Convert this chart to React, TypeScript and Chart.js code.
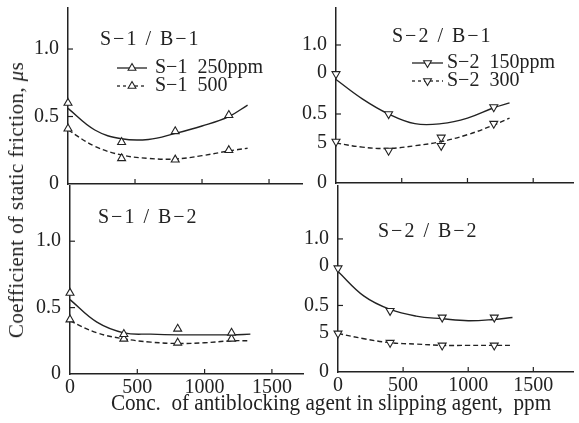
import React, { useEffect, useRef } from 'react';
import { Chart, registerables } from 'chart.js';

Chart.register(...registerables);

// ---------------- data ----------------
const curveX = [0, 200, 400, 600, 800, 1000, 1200, 1340];
const markX = [0, 400, 800, 1200];

// S-1 / B-1
const s1b1Curve250 = [0.56, 0.40, 0.335, 0.33, 0.375, 0.43, 0.50, 0.585];
const s1b1Mark250 = [0.60, 0.31, 0.39, 0.51];
const s1b1Curve500 = [0.40, 0.28, 0.215, 0.19, 0.185, 0.21, 0.245, 0.265];
const s1b1Mark500 = [0.41, 0.19, 0.18, 0.25];

// S-2 / B-1
const s2b1CurveX = [0, 200, 400, 600, 800, 1000, 1200, 1320];
const s2b1Curve150 = [0.75, 0.61, 0.50, 0.43, 0.43, 0.47, 0.545, 0.58];
const s2b1Mark150X = [0, 400, 1200];
const s2b1Mark150 = [0.79, 0.50, 0.55];
const s2b1Curve300 = [0.29, 0.26, 0.25, 0.27, 0.30, 0.35, 0.42, 0.47];
const s2b1Mark300X = [0, 400, 800, 800, 1200];
const s2b1Mark300 = [0.30, 0.235, 0.33, 0.27, 0.43];

// S-1 / B-2
const s1b2Curve250 = [0.56, 0.39, 0.31, 0.30, 0.295, 0.295, 0.295, 0.30];
const s1b2Mark250 = [0.61, 0.30, 0.34, 0.31];
const s1b2Curve500 = [0.40, 0.31, 0.265, 0.24, 0.23, 0.235, 0.25, 0.25];
const s1b2Mark500 = [0.41, 0.265, 0.235, 0.265];

// S-2 / B-2
const s2b2Curve150 = [0.755, 0.57, 0.47, 0.42, 0.40, 0.385, 0.395, 0.41];
const s2b2Mark150 = [0.78, 0.46, 0.41, 0.41];
const s2b2Curve300 = [0.29, 0.25, 0.22, 0.21, 0.20, 0.20, 0.20, 0.20];
const s2b2Mark300 = [0.29, 0.22, 0.20, 0.20];

// ticks
const xTickValues = [0, 500, 1000, 1500];
const xTickLabels = ['0', '500', '1000', '1500'];
const leftYTickValues = [0, 0.5, 1.0];
const leftYTickLabels = ['0', '0.5', '1.0'];
const rightYTickValues = [0, 0.295, 0.5, 0.8, 1.0];
const rightYTickLabels = ['0', '5', '0.5', '0', '1.0'];
const xMarkTicks = [500, 1000, 1500];
const yMarkTicks = [0.5, 1.0];

// texts
const panelTitles = ['S−1 / B−1', 'S−2 / B−1', 'S−1 / B−2', 'S−2 / B−2'];
const legendS1 = ['S−1  250ppm', 'S−1  500'];
const legendS2 = ['S−2  150ppm', 'S−2  300'];
const yTitle = 'Coefficient of static friction, ';
const xTitle = 'Conc.  of antiblocking agent in slipping agent,  ppm';

const INK = '#222';
const FONT = '"Liberation Serif", "Times New Roman", serif';

// ---------------- plugins ----------------
const innerTicks = {
  id: 'innerTicks',
  afterDatasetsDraw(chart: any, _args: any, opts: any) {
    const { ctx, chartArea, scales } = chart;
    ctx.save();
    ctx.strokeStyle = INK;
    ctx.lineWidth = 1.2;
    for (const v of opts.x || []) {
      const px = scales.x.getPixelForValue(v);
      ctx.beginPath();
      ctx.moveTo(px, chartArea.bottom);
      ctx.lineTo(px, chartArea.bottom - 5);
      ctx.stroke();
    }
    for (const v of opts.y || []) {
      const py = scales.y.getPixelForValue(v);
      ctx.beginPath();
      ctx.moveTo(chartArea.left, py);
      ctx.lineTo(chartArea.left + 5, py);
      ctx.stroke();
    }
    ctx.restore();
  },
};

function drawTri(ctx: CanvasRenderingContext2D, x: number, y: number, r: number, down: boolean) {
  const s = down ? -1 : 1;
  ctx.beginPath();
  ctx.moveTo(x, y - s * r);
  ctx.lineTo(x + r * 0.866, y + s * r * 0.5);
  ctx.lineTo(x - r * 0.866, y + s * r * 0.5);
  ctx.closePath();
  ctx.fillStyle = '#fff';
  ctx.fill();
  ctx.stroke();
}

const sampleLegend = {
  id: 'sampleLegend',
  afterDraw(chart: any, _args: any, opts: any) {
    if (!opts || !opts.items) return;
    const { ctx } = chart;
    ctx.save();
    ctx.strokeStyle = INK;
    ctx.fillStyle = INK;
    for (const it of opts.items) {
      ctx.lineWidth = 1.3;
      ctx.setLineDash(it.dash);
      ctx.beginPath();
      ctx.moveTo(it.x1, it.y);
      ctx.lineTo(it.x2, it.y);
      ctx.stroke();
      ctx.setLineDash([]);
      ctx.lineWidth = 1.1;
      drawTri(ctx, (it.x1 + it.x2) / 2, it.y, 4.5, opts.down);
      ctx.fillStyle = INK;
      ctx.font = `20px ${FONT}`;
      ctx.textBaseline = 'middle';
      ctx.textAlign = 'left';
      ctx.fillText(it.label, it.textX, it.y);
    }
    ctx.restore();
  },
};

function zeroPad(s: any) {
  s.paddingTop = 0;
  s.paddingBottom = 0;
  s.paddingLeft = 0;
  s.paddingRight = 0;
}

// ---------------- panel ----------------
type Series = { cx: number[]; cy: number[]; mx: number[]; my: number[]; dash: number[] };

type PanelCfg = {
  left: number; top: number; width: number; height: number;
  yW: number; xH: number; padTop: number; padRight: number;
  xMax: number; yMax: number; showX: boolean;
  yVals: number[]; yLabels: string[]; down: boolean;
  series: Series[];
  legend?: any;
};

function Panel({ cfg }: { cfg: PanelCfg }) {
  const ref = useRef<HTMLCanvasElement>(null);
  useEffect(() => {
    const datasets: any[] = [];
    cfg.series.forEach((s) => {
      datasets.push({
        data: s.mx.map((x, i) => ({ x, y: s.my[i] })),
        showLine: false,
        pointStyle: 'triangle',
        pointRotation: cfg.down ? 180 : 0,
        pointRadius: 4.6,
        pointBorderWidth: 1.1,
        pointBackgroundColor: '#fff',
        pointBorderColor: INK,
        clip: false,
        order: 0,
      });
      datasets.push({
        data: s.cx.map((x, i) => ({ x, y: s.cy[i] })),
        showLine: true,
        borderColor: INK,
        borderWidth: 1.4,
        borderDash: s.dash,
        pointRadius: 0,
        tension: 0.4,
        clip: false,
        order: 1,
      });
    });
    const tickFont = { family: FONT, size: 20 };
    const chart = new Chart(ref.current!, {
      type: 'scatter',
      data: { datasets },
      plugins: [innerTicks, sampleLegend],
      options: {
        responsive: false,
        animation: false,
        events: [],
        layout: { padding: { top: cfg.padTop, right: cfg.padRight, left: 0, bottom: 0 } },
        plugins: {
          legend: { display: false },
          tooltip: { enabled: false },
          innerTicks: { x: xMarkTicks, y: yMarkTicks },
          sampleLegend: cfg.legend || {},
        } as any,
        scales: {
          x: {
            type: 'linear',
            min: 0,
            max: cfg.xMax,
            afterFit: (s: any) => { s.height = cfg.xH; zeroPad(s); },
            afterBuildTicks: (s: any) => { s.ticks = xTickValues.map((v) => ({ value: v })); },
            grid: { drawOnChartArea: false, drawTicks: false },
            border: { display: true, color: INK, width: 1.5 },
            ticks: {
              display: cfg.showX,
              autoSkip: false,
              maxRotation: 0,
              padding: 2,
              color: INK,
              font: tickFont,
              callback: (_v: any, i: number) => xTickLabels[i],
            },
          },
          y: {
            type: 'linear',
            min: 0,
            max: cfg.yMax,
            afterFit: (s: any) => { s.width = cfg.yW; zeroPad(s); },
            afterBuildTicks: (s: any) => { s.ticks = cfg.yVals.map((v) => ({ value: v })); },
            grid: { drawOnChartArea: false, drawTicks: false },
            border: { display: true, color: INK, width: 1.5 },
            ticks: {
              autoSkip: false,
              padding: 9,
              color: INK,
              font: tickFont,
              callback: (_v: any, i: number) => cfg.yLabels[i],
            },
          },
        },
      } as any,
    });
    return () => chart.destroy();
  }, []);
  return (
    <canvas
      ref={ref}
      width={cfg.width}
      height={cfg.height}
      style={{ position: 'absolute', left: cfg.left, top: cfg.top, width: cfg.width, height: cfg.height }}
    />
  );
}

const panels: PanelCfg[] = [
  {
    left: 0, top: 0, width: 312, height: 200, yW: 68, xH: 16, padTop: 8, padRight: 10,
    xMax: 1746, yMax: 1.304, showX: false, yVals: leftYTickValues, yLabels: leftYTickLabels, down: false,
    series: [
      { cx: curveX, cy: s1b1Curve250, mx: markX, my: s1b1Mark250, dash: [] },
      { cx: curveX, cy: s1b1Curve500, mx: markX, my: s1b1Mark500, dash: [5, 3] },
    ],
    legend: {
      down: false,
      items: [
        { label: legendS1[0], x1: 117, x2: 147, textX: 155, y: 68, dash: [] },
        { label: legendS1[1], x1: 117, x2: 147, textX: 155, y: 86, dash: [3, 3] },
      ],
    },
  },
  {
    left: 290, top: 0, width: 289, height: 200, yW: 46, xH: 17, padTop: 8, padRight: 0,
    xMax: 1805, yMax: 1.268, showX: false, yVals: rightYTickValues, yLabels: rightYTickLabels, down: true,
    series: [
      { cx: s2b1CurveX, cy: s2b1Curve150, mx: s2b1Mark150X, my: s2b1Mark150, dash: [] },
      { cx: s2b1CurveX, cy: s2b1Curve300, mx: s2b1Mark300X, my: s2b1Mark300, dash: [5, 3] },
    ],
    legend: {
      down: true,
      items: [
        { label: legendS2[0], x1: 122, x2: 153, textX: 157, y: 63, dash: [] },
        { label: legendS2[1], x1: 122, x2: 153, textX: 157, y: 81, dash: [3, 3] },
      ],
    },
  },
  {
    left: 0, top: 180, width: 312, height: 243, yW: 70, xH: 49, padTop: 4, padRight: 9,
    xMax: 1731, yMax: 1.418, showX: true, yVals: leftYTickValues, yLabels: leftYTickLabels, down: false,
    series: [
      { cx: curveX, cy: s1b2Curve250, mx: markX, my: s1b2Mark250, dash: [] },
      { cx: curveX, cy: s1b2Curve500, mx: markX, my: s1b2Mark500, dash: [5, 3] },
    ],
  },
  {
    left: 290, top: 180, width: 289, height: 243, yW: 48, xH: 51, padTop: 3, padRight: 0,
    xMax: 1807, yMax: 1.40, showX: true, yVals: rightYTickValues, yLabels: rightYTickLabels, down: true,
    series: [
      { cx: curveX, cy: s2b2Curve150, mx: markX, my: s2b2Mark150, dash: [] },
      { cx: curveX, cy: s2b2Curve300, mx: markX, my: s2b2Mark300, dash: [5, 3] },
    ],
  },
];

const titlePos = [
  { left: 100, cy: 38 },
  { left: 392, cy: 35 },
  { left: 98, cy: 216 },
  { left: 378, cy: 230 },
];

export default function App() {
  return (
    <div
      style={{
        position: 'absolute', left: 0, top: 0, width: 579, height: 423,
        background: '#fff', overflow: 'hidden', fontFamily: FONT, color: INK,
      }}
    >
      {panels.map((p, i) => <Panel key={i} cfg={p} />)}
      {panelTitles.map((t, i) => (
        <div
          key={'t' + i}
          style={{
            position: 'absolute', left: titlePos[i].left, top: titlePos[i].cy - 10,
            fontSize: 20, lineHeight: '20px', letterSpacing: 2, whiteSpace: 'pre',
          }}
        >
          {t}
        </div>
      ))}
      <div
        style={{
          position: 'absolute', left: 15.5, top: 200, fontSize: 21, lineHeight: '22px',
          whiteSpace: 'pre', letterSpacing: 0.4, transform: 'translate(-50%, -50%) rotate(-90deg)',
        }}
      >
        {yTitle}<i>μ</i>s
      </div>
      <div
        style={{
          position: 'absolute', left: 331, top: 391, fontSize: 23, lineHeight: '23px',
          whiteSpace: 'pre', transform: 'translateX(-50%) scaleX(0.92)',
        }}
      >
        {xTitle}
      </div>
    </div>
  );
}
